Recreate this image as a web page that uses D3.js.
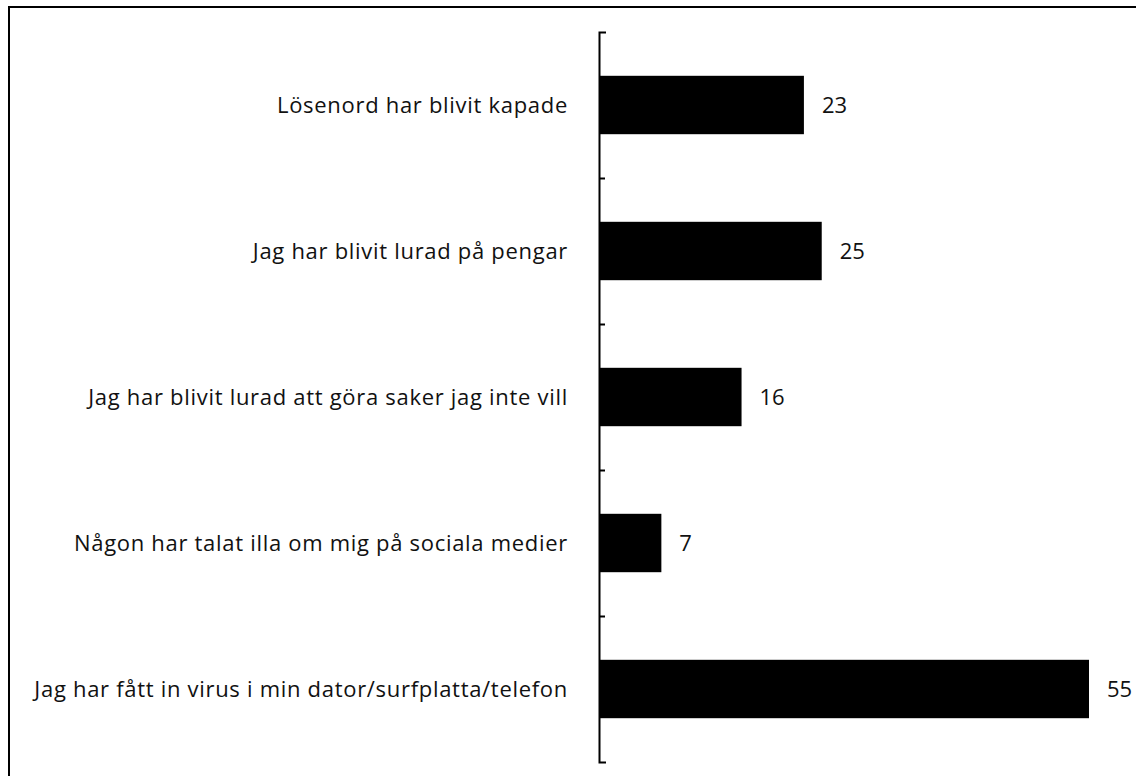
<!DOCTYPE html>
<html lang="sv">
<head>
    <meta charset="UTF-8">
    <title>Händelser</title>
    <style>
        body { margin: 0; background: #fff; }
        svg text { font-family: "Open Sans", sans-serif; fill: #111; }
    </style>
</head>
<body>
    <div id="chart"></div>
    <script src="https://d3js.org/d3.v7.min.js"></script>
    <script>
        const categories = [
            "Lösenord har blivit kapade",
            "Jag har blivit lurad på pengar",
            "Jag har blivit lurad att göra saker jag inte vill",
            "Någon har talat illa om mig på sociala medier",
            "Jag har fått in virus i min dator/surfplatta/telefon"
        ];
        const values = [23, 25, 16, 7, 55];

        const width = 1136, height = 776;
        const axisX = 599, axisTop = 32, axisBottom = 762;

        const svg = d3.select("#chart")
            .append("svg")
            .attr("width", width)
            .attr("height", height);

        // frame (only top and left edge show in the picture)
        svg.append("rect")
            .attr("x", 9).attr("y", 7)
            .attr("width", width + 20).attr("height", height + 20)
            .attr("fill", "none")
            .attr("stroke", "#000")
            .attr("stroke-width", 2);

        const y = d3.scaleBand()
            .domain(categories)
            .range([axisTop, axisBottom])
            .paddingInner(0.6)
            .paddingOuter(0.3);

        const x = d3.scaleLinear()
            .domain([0, 55])
            .range([axisX, 1089]);

        // ticks sit on the band edges
        const yEdge = d3.scaleLinear()
            .domain([0, categories.length])
            .range([axisTop, axisBottom]);

        const axis = svg.append("g")
            .attr("transform", `translate(${axisX},0)`)
            .call(d3.axisLeft(yEdge)
                .tickValues(d3.range(1, categories.length))
                .tickSizeInner(-6)
                .tickSizeOuter(-7)
                .tickFormat(""));
        axis.selectAll("path, line")
            .attr("stroke", "#000")
            .attr("stroke-width", 2);

        svg.selectAll(".bar")
            .data(values)
            .enter()
            .append("rect")
            .attr("class", "bar")
            .attr("x", x(0))
            .attr("y", (d, i) => y(categories[i]))
            .attr("width", d => x(d) - x(0))
            .attr("height", y.bandwidth())
            .attr("fill", "#000");

        svg.selectAll(".cat")
            .data(categories)
            .enter()
            .append("text")
            .attr("class", "cat")
            .attr("x", axisX - 31)
            .attr("y", d => y(d) + y.bandwidth() / 2)
            .attr("dy", "0.36em")
            .attr("text-anchor", "end")
            .style("font-size", "22px")
            .style("letter-spacing", "0.7px")
            .text(d => d);

        svg.selectAll(".val")
            .data(values)
            .enter()
            .append("text")
            .attr("class", "val")
            .attr("x", d => x(d) + 18)
            .attr("y", (d, i) => y(categories[i]) + y.bandwidth() / 2)
            .attr("dy", "0.36em")
            .style("font-size", "22px")
            .text(d => d);
    </script>
</body>
</html>
